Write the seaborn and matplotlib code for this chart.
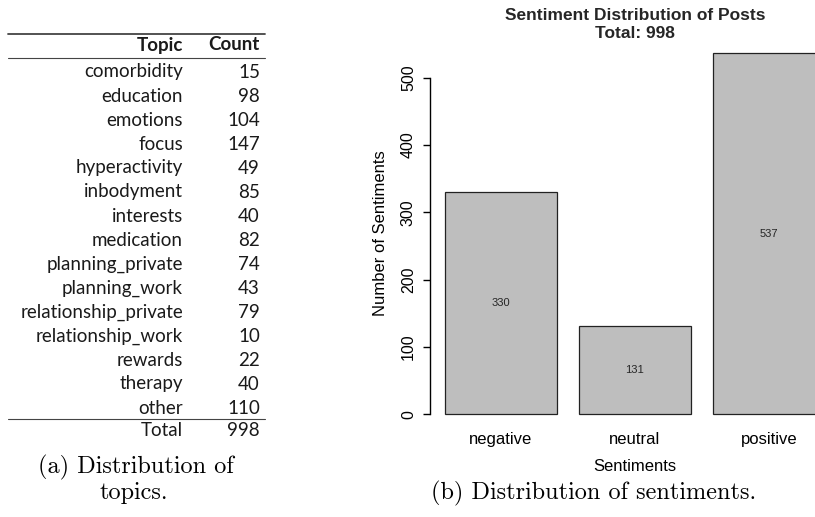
import matplotlib
matplotlib.use('Agg')
import matplotlib.pyplot as plt
import seaborn as sns
import pandas as pd

# (a) topic table
topics = ['comorbidity', 'education', 'emotions', 'focus', 'hyperactivity',
          'inbodyment', 'interests', 'medication', 'planning_private',
          'planning_work', 'relationship_private', 'relationship_work',
          'rewards', 'therapy', 'other']
topic_counts = [15, 98, 104, 147, 49, 85, 40, 82, 74, 43, 79, 10, 22, 40, 110]
topic_total = 998

# (b) sentiment bars
sentiments = ['negative', 'neutral', 'positive']
sentiment_counts = [330, 131, 537]
y_ticks = [0, 100, 200, 300, 400, 500]

sns.set_theme(style='white')
plt.rcParams['font.family'] = ['Liberation Sans', 'DejaVu Sans']

W, H = 815, 517
fig = plt.figure(figsize=(W / 100, H / 100), dpi=100)

# background axes in pixel units for the table and captions
tab = fig.add_axes([0, 0, 1, 1])
tab.set_xlim(0, W)
tab.set_ylim(H, 0)
tab.axis('off')

tfont = dict(family='Lato', fontsize=13.5, color='#1a1a1a')
tab.plot([8, 265], [34, 34], color='#444444', lw=1.3)
tab.plot([8, 265], [58, 58], color='#444444', lw=0.8)
tab.plot([8, 265], [419, 419], color='#444444', lw=0.8)
tab.text(183, 45, 'Topic', ha='right', va='center', fontweight='bold', **tfont)
tab.text(260, 45, 'Count', ha='right', va='center', fontweight='bold', **tfont)
for i, (t, c) in enumerate(zip(topics, topic_counts)):
    y = 72 + 24 * i
    tab.text(183, y, t, ha='right', va='center', **tfont)
    tab.text(260, y, str(c), ha='right', va='center', **tfont)
tab.text(183, 430, 'Total', ha='right', va='center', **tfont)
tab.text(260, 430, str(topic_total), ha='right', va='center', **tfont)

cap = dict(family='cmr10', fontsize=17.5, ha='center', va='center', color='black')
tab.text(136, 467, '(a) Distribution of', **cap)
tab.text(134, 493, 'topics.', **cap)
tab.text(594, 493, '(b) Distribution of sentiments.', **cap)

# bar chart (plot region runs past the right edge, as in the source)
ax = fig.add_axes([429.8 / W, 1 - 428.8 / H, 410 / W, 390.5 / H])
df = pd.DataFrame({'Sentiment': sentiments, 'Count': sentiment_counts})
sns.barplot(data=df, x='Sentiment', y='Count', color='#bebebe', saturation=1,
            edgecolor='#222222', linewidth=0.9, width=1 / 1.2, ax=ax)
ax.set_xlim(-0.53, 2.53)
ax.set_ylim(-21.48, 558.48)
ax.patch.set_alpha(0)
for s in ['top', 'right', 'bottom']:
    ax.spines[s].set_visible(False)
ax.spines['left'].set_bounds(0, 500)
ax.spines['left'].set_color('black')
ax.spines['left'].set_linewidth(1)
ax.set_yticks(y_ticks)
ax.set_yticklabels([str(v) for v in y_ticks], rotation=90, va='center')
ax.tick_params(axis='y', left=True, length=5, width=1, color='black',
               labelsize=11.5, pad=5, labelcolor='black')
ax.tick_params(axis='x', bottom=False, length=0, labelsize=12, pad=2,
               labelcolor='black')
ax.bar_label(ax.containers[0], label_type='center', fontsize=8)
ax.set_xlabel('Sentiments', fontsize=12, labelpad=9, color='black')
ax.set_ylabel('Number of Sentiments', fontsize=12, labelpad=9, color='black')

tab.text(635, 15, 'Sentiment Distribution of Posts', ha='center', va='center',
         fontweight='bold', fontsize=12.5)
tab.text(635, 33, 'Total: 998', ha='center', va='center',
         fontweight='bold', fontsize=12.5)

fig.savefig('out.png', dpi=100)
